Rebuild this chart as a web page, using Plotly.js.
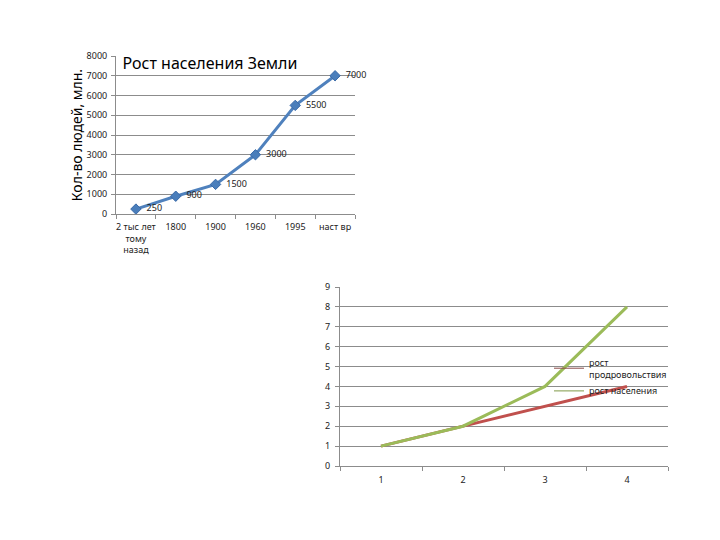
<!DOCTYPE html>
<html>
<head>
<meta charset="utf-8">
<script src="https://cdn.plot.ly/plotly-3.0.1.min.js"></script>
<style>html,body{margin:0;padding:0;background:#fff;}#chart{width:720px;height:540px;}</style>
</head>
<body>
<div id="chart"></div>
<script>
// Chart 1: population growth
const popCategories = ["2 тыс лет<br>тому<br>назад", "1800", "1900", "1960", "1995", "наст вр"];
const popValues = [250, 900, 1500, 3000, 5500, 7000];
const popTitle = "Рост населения Земли";
const popYTitle = "Кол-во людей, млн.";

// Chart 2: Malthus comparison
const cmpCategories = ["1", "2", "3", "4"];
const foodName = "рост<br>продровольствия";
const foodValues = [1, 2, 3, 4];
const peopleName = "рост населения";
const peopleValues = [1, 2, 4, 8];

const tickFont = {family: "Noto Sans, DejaVu Sans, sans-serif", size: 9, color: "#222"};
const gridColor = "#8c8c8c";
const foodColor = "#c0504d";
const peopleColor = "#9bbb59";

const traces = [
  {
    x: popCategories, y: popValues, xaxis: "x", yaxis: "y",
    type: "scatter", mode: "lines+markers+text",
    line: {color: "#4f81bd", width: 3},
    marker: {symbol: "diamond", size: 8, color: "#4a7ebb", line: {color: "#3a6aa8", width: 1}},
    text: popValues.map(v => "\u00a0\u00a0" + v), textposition: "middle right",
    textfont: {family: "Noto Sans, DejaVu Sans, sans-serif", size: 9, color: "#222"},
    showlegend: false, cliponaxis: false
  },
  {
    x: cmpCategories, y: foodValues, xaxis: "x2", yaxis: "y2",
    type: "scatter", mode: "lines", name: foodName, legendgroup: "food", showlegend: false,
    line: {color: foodColor, width: 3}
  },
  {
    x: cmpCategories, y: peopleValues, xaxis: "x2", yaxis: "y2",
    type: "scatter", mode: "lines", name: peopleName, legendgroup: "people", showlegend: false,
    line: {color: peopleColor, width: 3}
  },
  // legend keys (thin lines, as in the original)
  {
    x: [null], y: [null], xaxis: "x2", yaxis: "y2",
    type: "scatter", mode: "lines", name: foodName, legendgroup: "food",
    line: {color: "#8a4a48", width: 1}
  },
  {
    x: [null], y: [null], xaxis: "x2", yaxis: "y2",
    type: "scatter", mode: "lines", name: peopleName, legendgroup: "people",
    line: {color: "#7f9a48", width: 1}
  }
];

const layout = {
  width: 720, height: 540,
  margin: {l: 0, r: 0, t: 0, b: 0},
  paper_bgcolor: "#fff", plot_bgcolor: "rgba(0,0,0,0)",
  font: {family: "Noto Sans, DejaVu Sans, sans-serif"},
  title: {
    text: popTitle, x: 210/720, y: 1 - 63/540, xref: "paper", yref: "paper",
    xanchor: "center", yanchor: "middle",
    font: {family: "Noto Sans, DejaVu Sans, sans-serif", size: 16, color: "#000"}
  },
  xaxis: {
    domain: [116/720, 355/720], anchor: "y", type: "category",
    range: [-0.5, 5.5], showgrid: false, zeroline: false,
    showline: true, linecolor: gridColor, linewidth: 1,
    ticks: "outside", tickson: "boundaries", ticklen: 4, tickcolor: gridColor,
    tickfont: tickFont, tickangle: 0, automargin: false, ticklabelstandoff: 4
  },
  yaxis: {
    domain: [1 - 214/540, 1 - 56/540], anchor: "x",
    range: [0, 8000], dtick: 1000, showgrid: true, gridcolor: gridColor, gridwidth: 1,
    zeroline: false, showline: true, linecolor: gridColor,
    ticks: "outside", ticklen: 4, tickcolor: gridColor,
    tickfont: tickFont, automargin: false, ticklabelstandoff: 2,
    title: {text: popYTitle, font: {family: "Noto Sans, DejaVu Sans, sans-serif", size: 14, color: "#000"}, standoff: 0}
  },
  xaxis2: {
    domain: [340/720, 668/720], anchor: "y2", type: "category",
    range: [-0.5, 3.5], showgrid: false, zeroline: false,
    showline: true, linecolor: gridColor, linewidth: 1,
    ticks: "outside", tickson: "boundaries", ticklen: 4, tickcolor: gridColor,
    tickfont: tickFont, automargin: false, ticklabelstandoff: 5
  },
  yaxis2: {
    domain: [1 - 466/540, 1 - 287/540], anchor: "x2",
    range: [0, 9], dtick: 1, showgrid: true, gridcolor: gridColor, gridwidth: 1,
    zeroline: false, showline: true, linecolor: gridColor,
    ticks: "outside", ticklen: 4, tickcolor: gridColor,
    tickfont: tickFont, automargin: false, ticklabelstandoff: 3
  },
  showlegend: true,
  legend: {
    x: 549/720, y: 1 - 350/540, xanchor: "left", yanchor: "top",
    bgcolor: "rgba(0,0,0,0)", borderwidth: 0,
    font: {family: "Noto Sans, DejaVu Sans, sans-serif", size: 9, color: "#222"},
    itemwidth: 30, tracegroupgap: 0
  }
};

Plotly.newPlot("chart", traces, layout, {displayModeBar: false, staticPlot: true});
</script>
</body>
</html>
